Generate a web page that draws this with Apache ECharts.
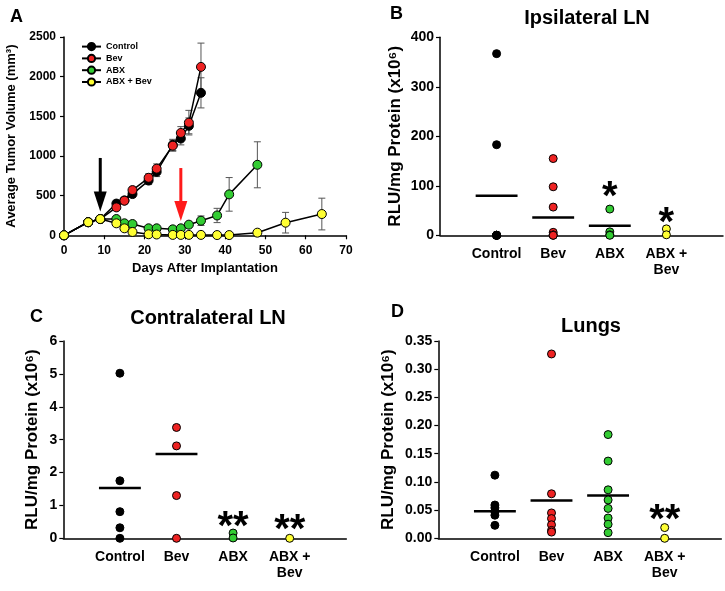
<!DOCTYPE html>
<html>
<head>
<meta charset="utf-8">
<script src="https://cdn.jsdelivr.net/npm/echarts@6/dist/echarts.min.js"></script>
<style>html,body{margin:0;padding:0;background:#fff}#c{width:725px;height:591px}</style>
</head>
<body>
<div id="c"></div>
<script>
// ---------- Panel A data ----------
const groupNames = ['Control', 'Bev', 'ABX', 'ABX + Bev'];
const groupColors = ['#000000', '#ee2222', '#33cc33', '#ffff33'];
const days = [0, 6, 9, 13, 15, 17, 21, 23, 27, 29, 31, 34, 38, 41, 48, 55, 64];
const controlVol = [0, 165, 205, 400, 440, 520, 690, 800, 1140, 1220, 1380, 1796];
const controlErr = [0, 20, 20, 40, 40, 40, 50, 60, 70, 80, 100, 190];
const bevVol = [0, 165, 205, 352, 436, 570, 725, 840, 1130, 1290, 1420, 2123];
const bevErr = [0, 20, 20, 40, 40, 40, 50, 60, 70, 80, 155, 300];
const abxVol = [0, 165, 205, 205, 151, 142, 88, 88, 75, 88, 134, 184, 250, 516, 889];
const abxErr = [0, 20, 20, 30, 30, 25, 20, 20, 20, 20, 25, 60, 90, 212, 290];
const abxBevVol = [0, 165, 205, 151, 88, 42, 13, 10, 5, 5, 5, 5, 3, 3, 33, 159, 268];
const abxBevErr = [0, 20, 20, 30, 25, 15, 5, 5, 3, 3, 3, 3, 2, 2, 15, 130, 200];
// treatment arrows: [day, start value, tip value]
const arrowBlack = [9, 975, 300];
const arrowRed = [29, 848, 180];

// ---------- Panels B-D data ----------
const categories = ['Control', 'Bev', 'ABX', 'ABX +\nBev'];
const ipsiControl = [367, 183, 0, 0, 0, 0, 0];
const ipsiBev = [155, 98, 57, 6, 1, 0, 0];
const ipsiAbx = [53, 7, 1, 0];
const ipsiAbxBev = [13, 1];
const ipsiMeans = [80, 36, 19.5, null];
const ipsiStars = [null, null, '*', '*'];
const ipsiStarY = [null, null, 93, 42];

const contraControl = [5.02, 1.75, 0.81, 0.32, 0];
const contraBev = [3.37, 2.81, 1.3, 0];
const contraAbx = [0.16, 0.01];
const contraAbxBev = [0];
const contraMeans = [1.53, 2.56, null, null];
const contraStars = [null, null, '**', '**'];
const contraStarY = [null, null, 0.59, 0.5];

const lungControl = [0.112, 0.059, 0.054, 0.047, 0.041, 0.023];
const lungBev = [0.327, 0.079, 0.045, 0.035, 0.024, 0.014, 0.011];
const lungAbx = [0.184, 0.137, 0.086, 0.068, 0.053, 0.036, 0.025, 0.010];
const lungAbxBev = [0.019, 0];
const lungMeans = [0.048, 0.067, 0.076, null];
const lungStars = [null, null, null, '**'];
const lungStarY = [null, null, null, 0.046];

// ---------- build ----------
const FONT = "'Liberation Sans', Arial, sans-serif";
const chart = echarts.init(document.getElementById('c'), null, {renderer: 'canvas'});

const volSets = [[controlVol, controlErr], [bevVol, bevErr], [abxVol, abxErr], [abxBevVol, abxBevErr]];

function errSeries(vals, errs) {
  return {
    type: 'custom', xAxisIndex: 0, yAxisIndex: 0, z: 1, silent: true,
    data: vals.map((v, i) => [days[i], v, errs[i]]),
    renderItem: function (params, api) {
      const x = api.value(0), y = api.value(1), e = api.value(2);
      if (!e) return null;
      const t = api.coord([x, y + e]), b = api.coord([x, y - e]);
      const st = {stroke: '#555', lineWidth: 1};
      return {type: 'group', children: [
        {type: 'line', shape: {x1: t[0], y1: t[1], x2: b[0], y2: b[1]}, style: st},
        {type: 'line', shape: {x1: t[0] - 3.5, y1: t[1], x2: t[0] + 3.5, y2: t[1]}, style: st},
        {type: 'line', shape: {x1: b[0] - 3.5, y1: b[1], x2: b[0] + 3.5, y2: b[1]}, style: st}
      ]};
    }
  };
}

function arrowSeries(a, color) {
  return {
    type: 'custom', xAxisIndex: 0, yAxisIndex: 0, z: 5, silent: true,
    data: [a],
    renderItem: function (params, api) {
      const top = api.coord([api.value(0), api.value(1)]);
      const tip = api.coord([api.value(0), api.value(2)]);
      const hh = 20, hw = 6.5;
      return {type: 'group', children: [
        {type: 'line', shape: {x1: top[0], y1: top[1], x2: tip[0], y2: tip[1] - hh + 1}, style: {stroke: color, lineWidth: 3}},
        {type: 'polygon', shape: {points: [[tip[0] - hw, tip[1] - hh], [tip[0] + hw, tip[1] - hh], [tip[0], tip[1]]]}, style: {fill: color}}
      ]};
    }
  };
}

const series = [];
volSets.forEach((s) => series.push(errSeries(s[0], s[1])));
volSets.forEach((s, g) => series.push({
  name: groupNames[g], type: 'line', xAxisIndex: 0, yAxisIndex: 0, z: 3 + g * 0.1,
  data: s[0].map((v, i) => [days[i], v]),
  symbol: 'circle', symbolSize: 9,
  lineStyle: {color: '#000', width: 1.5},
  itemStyle: {color: groupColors[g], borderColor: '#000', borderWidth: 1},
  emphasis: {disabled: true}, animation: false
}));
series.push(arrowSeries(arrowBlack, '#000'));
series.push(arrowSeries(arrowRed, '#ff1a1a'));

function scatterPanel(idx, groups, means, stars, starY) {
  groups.forEach((vals, g) => series.push({
    name: 'p' + idx + '_' + g, type: 'scatter', xAxisIndex: idx, yAxisIndex: idx, z: 4,
    data: vals.map(v => [g + 1, v]), symbolSize: 8,
    itemStyle: {color: groupColors[g], borderColor: '#000', borderWidth: 1, opacity: 1},
    emphasis: {disabled: true}, animation: false
  }));
  series.push({
    type: 'custom', xAxisIndex: idx, yAxisIndex: idx, z: 3, silent: true,
    data: means.map((m, g) => m == null ? null : [g + 1, m]).filter(d => d),
    renderItem: function (params, api) {
      const x = api.value(0), y = api.value(1);
      const p1 = api.coord([x - 0.37, y]), p2 = api.coord([x + 0.37, y]);
      return {type: 'line', shape: {x1: p1[0], y1: p1[1], x2: p2[0], y2: p2[1]}, style: {stroke: '#000', lineWidth: 2.5}};
    }
  });
  series.push({
    type: 'custom', xAxisIndex: idx, yAxisIndex: idx, z: 5, silent: true,
    data: stars.map((s, g) => s == null ? null : [g + 1, starY[g], s]).filter(d => d),
    renderItem: function (params, api) {
      const p = api.coord([api.value(0), api.value(1)]);
      const s = stars[api.value(0) - 1];
      return {type: 'text', x: p[0], y: p[1] + 9, style: {
        text: s, fill: '#000', font: "bold 40px 'Liberation Sans', Arial, sans-serif",
        textAlign: 'center', textVerticalAlign: 'middle', letterSpacing: -3
      }};
    }
  });
}
scatterPanel(1, [ipsiControl, ipsiBev, ipsiAbx, ipsiAbxBev], ipsiMeans, ipsiStars, ipsiStarY);
scatterPanel(2, [contraControl, contraBev, contraAbx, contraAbxBev], contraMeans, contraStars, contraStarY);
scatterPanel(3, [lungControl, lungBev, lungAbx, lungAbxBev], lungMeans, lungStars, lungStarY);

const axisLine = {show: true, lineStyle: {color: '#000', width: 1.5}};
const tick = {show: true, length: 4, lineStyle: {color: '#000', width: 1.2}};
function lab(size, margin) { return {color: '#000', fontFamily: FONT, fontWeight: 'bold', fontSize: size, margin: margin}; }
const nameStyle = (size) => ({color: '#000', fontFamily: FONT, fontWeight: 'bold', fontSize: size});

function catX(idx) {
  return {
    type: 'value', gridIndex: idx, min: 0, max: 5, interval: 1,
    axisLine: axisLine, axisTick: {show: false}, splitLine: {show: false},
    axisLabel: Object.assign(lab(14, 11), {lineHeight: 16, formatter: v => categories[v - 1] || ''})
  };
}
function valY(idx, max, interval, nameGap, fmt) {
  return {
    type: 'value', gridIndex: idx, min: 0, max: max, interval: interval,
    name: 'RLU/mg Protein (x10\u2076)', nameLocation: 'middle', nameGap: nameGap, nameRotate: 90,
    nameTextStyle: nameStyle(17),
    axisLine: axisLine, axisTick: tick, splitLine: {show: false},
    axisLabel: Object.assign(lab(14, 6), {formatter: fmt || (v => String(v))})
  };
}

const titleStyle = (size) => ({color: '#000', fontFamily: FONT, fontWeight: 'bold', fontSize: size});

const option = {
  backgroundColor: '#fff',
  animation: false,
  title: [
    {text: 'A', left: 5, top: 3, textStyle: titleStyle(18)},
    {text: 'B', left: 385, top: 0, textStyle: titleStyle(18)},
    {text: 'C', left: 25, top: 303, textStyle: titleStyle(18)},
    {text: 'D', left: 386, top: 298, textStyle: titleStyle(18)},
    {text: 'Ipsilateral LN', left: 582, textAlign: 'center', top: 3, textStyle: titleStyle(20)},
    {text: 'Contralateral LN', left: 203, textAlign: 'center', top: 303, textStyle: titleStyle(20)},
    {text: 'Lungs', left: 586, textAlign: 'center', top: 311, textStyle: titleStyle(20)}
  ],
  legend: {
    data: groupNames, orient: 'vertical', left: 76, top: 37,
    itemWidth: 19, itemHeight: 9, itemGap: 2.6, itemTextGap: 4,
    textStyle: {color: '#000', fontFamily: FONT, fontWeight: 'bold', fontSize: 9},
    selectedMode: false
  },
  grid: [
    {left: 64, top: 37, width: 282, height: 198.3, outerBoundsMode: 'none'},
    {left: 440, top: 37.3, width: 283, height: 198, outerBoundsMode: 'none'},
    {left: 63.3, top: 341, width: 283, height: 197.3, outerBoundsMode: 'none'},
    {left: 438.3, top: 341, width: 283, height: 197.3, outerBoundsMode: 'none'}
  ],
  xAxis: [
    {type: 'value', gridIndex: 0, min: 0, max: 70, interval: 10,
     name: 'Days After Implantation', nameLocation: 'middle', nameGap: 27, nameTextStyle: nameStyle(13),
     axisLine: axisLine, axisTick: tick, splitLine: {show: false}, axisLabel: lab(12, 9)},
    catX(1), catX(2), catX(3)
  ],
  yAxis: [
    {type: 'value', gridIndex: 0, min: 0, max: 2500, interval: 500,
     name: 'Average Tumor Volume (mm\u00b3)', nameLocation: 'middle', nameGap: 46, nameRotate: 90,
     nameTextStyle: nameStyle(13),
     axisLine: axisLine, axisTick: tick, splitLine: {show: false},
     axisLabel: Object.assign(lab(12, 8), {formatter: v => String(v)})},
    valY(1, 400, 100, 36),
    valY(2, 6, 1, 22),
    valY(3, 0.35, 0.05, 41, v => v.toFixed(2))
  ],
  series: series
};
chart.setOption(option);
</script>
</body>
</html>
